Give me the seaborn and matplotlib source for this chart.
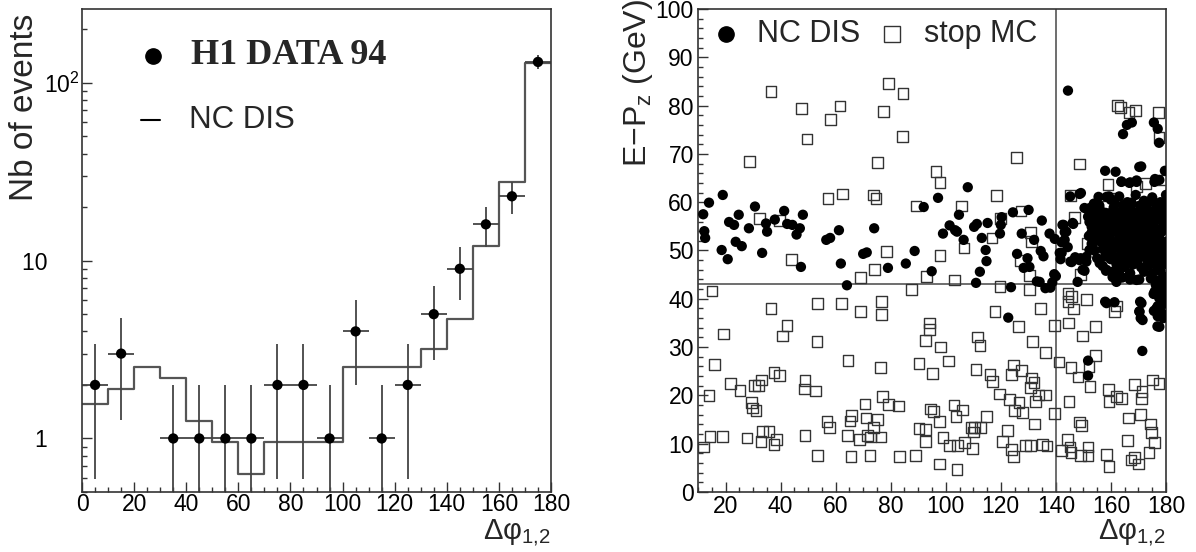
import numpy as np
import pandas as pd
import seaborn as sns
import matplotlib.pyplot as plt
from matplotlib.ticker import MultipleLocator, FixedLocator, FixedFormatter, LogLocator, NullFormatter

# ------------------------------------------
# DATA : left panel (delta phi distribution)
# ------------------------------------------
bin_edges = [0, 10, 20, 30, 40, 50, 60, 70, 80, 90, 100, 110, 120, 130, 140, 150, 160, 170, 180]
mc_counts = [1.56, 1.89, 2.52, 2.2, 1.26, 0.95, 0.63, 0.95, 0.95, 0.95,
             2.52, 2.52, 2.52, 3.17, 4.71, 12.1, 27.8, 129]

data_x = [5, 15, 35, 45, 55, 65, 75, 85, 95, 105, 115, 125, 135, 145, 155, 165, 175]
data_n = [2, 3, 1, 1, 1, 1, 2, 2, 1, 4, 1, 2, 5, 9, 16, 23, 131]
err_up = [1.41, 1.73, 1, 1, 1, 1, 1.41, 1.41, 1, 2, 1, 1.41, 2.24, 3, 4, 4.8, 11.4]
err_lo = [1.41, 1.73, 0.99, 0.99, 0.99, 0.99, 1.41, 1.41, 0.99, 2, 0.99, 1.41, 2.24, 3, 4, 4.8, 11.4]
half_bin = [5] * len(data_x)

# ------------------------------------------
# DATA : right panel (E-Pz vs delta phi)
# ------------------------------------------
stop_x = [36.5, 79.3, 84.5, 47.5, 61.6, 58.2, 77.3, 49.6, 84.4, 28.6, 75.1, 125.8, 96.5, 97.9,
          57.2, 62.4, 73.8, 74.7, 89.2, 105.8, 118.3, 127.3, 32.4, 39.5, 119.9, 130.7, 131.2,
          116.8, 106.6, 78.4, 97.9, 44.1, 74.2, 93.1, 68.9, 103.2, 130.3, 127.2, 87.5, 119.7,
          130.3, 15.1, 36.5, 53.3, 62.0, 69.1, 76.6, 76.6, 117.9, 134.5, 42.3, 94.2, 94.2,
          126.5, 139.6, 19.4, 40.6, 53.2, 92.7, 131.4, 111.4, 112.4, 98.0, 136.3, 64.5, 101.1,
          16.1, 90.3, 76.2, 111.0, 124.5, 127.5, 123.8, 95.3, 37.6, 39.5, 33.1, 48.9, 21.9,
          116.1, 116.9, 131.2, 132.1, 30.5, 32.0, 25.3, 48.6, 52.8, 14.0, 130.7, 119.6, 133.8,
          136.1, 77.0, 123.2, 126.6, 132.5, 29.4, 70.7, 79.3, 82.9, 29.7, 31.1, 94.5, 95.5,
          103.0, 106.2, 124.9, 128.0, 65.9, 139.6, 56.9, 57.8, 65.2, 71.0, 75.3, 73.8, 97.6,
          103.7, 114.9, 109.4, 110.4, 112.5, 132.3, 33.5, 35.8, 90.3, 92.7, 122.5, 14.4, 18.8,
          27.8, 48.9, 64.3, 68.6, 71.7, 72.6, 76.5, 110.2, 99.0, 38.6, 32.9, 37.6, 11.9, 92.6,
          106.8, 101.5, 104.3, 109.7, 120.7, 123.8, 128.9, 130.7, 135.2, 136.8, 53.5, 65.6,
          72.5, 83.1, 88.9, 124.5, 97.8, 104.1,
          162.4, 163.5, 166.6, 169.0, 177.3, 177.5, 148.5, 158.9, 161.6, 169.2, 172.6, 178.6,
          145.2, 146.7, 158.6, 151.5, 149.0, 144.4, 145.8, 144.4, 146.4, 151.2, 162.0, 161.3,
          144.5, 149.6, 154.5, 154.5, 141.1, 145.5, 148.0, 152.0, 152.4, 159.0, 159.3, 162.0,
          163.9, 168.7, 171.3, 171.0, 175.2, 177.5, 144.8, 166.5, 170.7, 174.5, 174.8, 175.9,
          166.1, 148.5, 149.4, 144.1, 145.1, 142.1, 145.5, 149.0, 151.7, 151.7, 158.3, 159.3,
          167.3, 168.6, 170.0, 173.8]
stop_y = [82.9, 84.5, 82.5, 79.4, 79.9, 77.2, 78.8, 73.1, 73.6, 68.5, 68.2, 69.3, 66.4, 64.1,
          60.8, 61.7, 61.5, 60.7, 59.2, 59.2, 61.4, 58.2, 56.6, 56.2, 56.6, 53.7, 51.8,
          52.6, 50.5, 49.8, 48.9, 48.2, 46.1, 44.6, 44.4, 43.9, 44.9, 48.0, 42.0, 42.6,
          42.0, 41.6, 38.0, 39.1, 39.1, 37.4, 39.4, 36.7, 37.4, 38.0, 34.5, 35.0, 33.6,
          34.2, 34.5, 32.7, 32.3, 31.2, 31.4, 31.2, 32.1, 30.3, 30.0, 28.9, 27.3, 27.1,
          26.4, 26.6, 25.8, 25.4, 26.3, 25.2, 24.3, 24.5, 24.7, 24.1, 23.2, 23.1, 22.5,
          24.3, 22.8, 23.6, 22.6, 22.0, 22.0, 21.0, 21.3, 20.9, 20.0, 21.6, 20.3, 20.1,
          20.1, 19.8, 19.1, 18.5, 18.7, 18.5, 18.2, 18.1, 17.8, 17.4, 16.9, 17.2, 16.6,
          18.0, 17.0, 16.9, 16.4, 15.9, 16.3, 14.6, 13.4, 14.7, 15.3, 15.0, 13.4, 14.6,
          15.7, 15.7, 13.4, 13.4, 13.4, 14.1, 12.6, 12.5, 13.1, 13.0, 12.8, 11.5, 11.5,
          11.2, 11.7, 11.7, 10.9, 11.7, 11.4, 11.4, 12.4, 11.3, 10.8, 10.4, 9.9, 9.3, 10.4,
          10.3, 9.7, 9.6, 9.0, 10.4, 8.8, 9.7, 9.7, 9.9, 9.5, 7.5, 7.3,
          7.5, 7.3, 7.5, 7.4, 5.8, 4.7,
          80.0, 79.6, 78.5, 79.0, 78.5, 73.4, 67.9, 63.7, 60.7, 63.2, 63.8, 64.6,
          61.4, 56.9, 59.1, 51.5, 45.1, 41.1, 40.4, 39.4, 37.9, 39.8, 38.5, 37.4,
          35.0, 32.3, 34.3, 28.3, 26.9, 25.8, 23.8, 26.0, 21.8, 21.2, 18.8, 19.7,
          19.3, 22.3, 20.8, 19.3, 23.2, 22.5, 18.8, 15.3, 16.1, 14.1, 12.3, 10.2,
          10.6, 14.5, 13.7, 10.8, 9.3, 8.6, 8.2, 7.5, 7.5, 9.3, 7.7, 5.3,
          6.6, 7.2, 5.8, 8.2]

nc_x = [11.9, 12.3, 12.6, 14.0, 19.0, 18.6, 20.8, 21.3, 23.1, 24.8, 23.7, 25.9, 28.5, 30.7,
        33.3, 34.7, 35.1, 37.9, 41.3, 42.4, 44.3, 45.8, 47.0, 48.1, 47.4, 56.6, 58.0, 61.2,
        61.9, 64.1, 70.0, 71.3, 74.0, 79.0, 85.5, 88.7, 92.0, 94.9, 97.2, 99.0, 101.4, 103.4,
        104.1, 104.8, 106.5, 108.0, 110.3, 111.3, 111.0, 112.4, 113.1, 114.5, 114.8, 115.2,
        120.0, 119.7, 120.3, 123.7, 124.4, 125.9, 127.6, 128.3, 130.1, 129.7, 130.4, 132.1,
        133.1, 134.1, 134.9, 134.5, 135.5, 136.2, 138.0, 137.7, 139.6, 139.4, 138.7, 122.7,
        # beyond the 140 cut
        144.4, 164.4, 165.8, 167.6, 175.6, 177.0, 177.5, 171.0, 157.9, 179.6, 163.8, 167.0,
        169.3, 176.0, 145.2, 149.1, 142.8, 146.3, 143.8, 142.1, 141.4, 141.7, 145.3, 147.0,
        149.0, 150.4, 151.1, 140.0, 152.4, 153.8, 155.8, 159.3, 151.7, 155.1, 159.9, 160.6,
        158.2, 162.0, 164.1, 166.9, 170.3, 161.3, 157.9, 170.6, 170.3, 170.8, 171.4, 176.9,
        151.7, 151.7, 175.6, 177.0, 178.4, 179.0, 177.0, 175.9, 177.7, 179.0, 176.3, 178.4,
        177.4, 179.4,
        150.4, 152.9, 155.9, 152.2, 153.4, 152.9, 154.7, 153.3, 152.2, 151.1, 148.6, 145.7,
        149.7, 155.9, 158.4, 160.6, 162.0, 166.7, 169.3, 147.9, 158.4, 155.5, 148.6, 163.8,
        166.7, 169.3, 170.3, 175.8, 177.6, 161.7, 142.4, 146.1, 143.2, 143.2, 144.3, 142.1,
        158.4, 171.1, 170.4, 171.5, 177.6, 177.6,
        # dense core
        160, 163, 166, 169, 172, 175, 178, 180,
        156, 158, 161, 164, 167, 170, 173, 176, 179,
        154, 157, 159, 162, 165, 168, 171, 174, 177, 180,
        153, 156, 158, 161, 164, 167, 170, 173, 176, 179,
        152, 155, 157, 160, 163, 166, 169, 172, 175, 178,
        153, 156, 159, 162, 165, 168, 171, 174, 177, 180,
        154, 157, 160, 163, 166, 169, 172, 175, 178,
        155, 158, 161, 164, 167, 170, 173, 176, 179,
        157, 162, 165, 168, 171, 174, 177, 180,
        163, 167, 172, 175, 178,
        161.5, 164.5, 167.5, 170.5, 173.5, 176.5, 179.5,
        159.5, 162.5, 165.5, 168.5, 171.5, 174.5, 177.5,
        157.5, 160.5, 163.5, 166.5, 169.5, 172.5, 175.5, 178.5,
        158.5, 161.5, 164.5, 167.5, 170.5, 173.5, 176.5, 179.5,
        156.5, 159.5, 162.5, 165.5, 168.5, 171.5, 174.5, 177.5,
        158.5, 161.5, 164.5, 167.5, 170.5, 173.5, 176.5, 179.5,
        160.5, 163.5, 166.5, 169.5, 172.5, 175.5, 178.5,
        164.5, 169.5, 173.5, 176.5, 179.5,
        174.5, 176.5, 178.5, 180, 175.5, 177.5, 179.5, 176.5, 178.5, 180]
nc_y = [57.5, 54.0, 52.6, 59.9, 61.5, 50.1, 48.2, 55.9, 55.3, 57.4, 51.8, 50.9, 54.6, 59.1,
        49.5, 55.6, 53.9, 56.4, 58.2, 55.5, 55.3, 53.3, 54.6, 57.4, 46.6, 52.2, 52.6, 54.2,
        47.3, 42.8, 49.3, 49.6, 54.6, 46.4, 47.3, 49.9, 59.0, 45.7, 60.9, 53.5, 55.2, 54.2,
        53.9, 57.4, 52.2, 63.1, 54.9, 55.5, 43.3, 45.6, 52.6, 50.1, 47.8, 55.7,
        55.3, 53.5, 56.9, 42.4, 57.9, 49.3, 53.5, 46.4, 58.4, 48.4, 46.6, 52.2,
        43.6, 43.5, 56.2, 49.9, 48.8, 42.2, 42.3, 53.5, 52.4, 45.1, 43.4, 36.1,
        83.1, 74.1, 76.0, 76.5, 76.5, 75.2, 72.3, 67.4, 66.5, 66.5, 64.3, 64.1,
        64.5, 64.8, 61.2, 61.9, 55.3, 55.5, 53.9, 51.7, 49.5, 48.2, 47.7, 48.6,
        48.4, 45.8, 47.7, 44.7, 58.8, 59.7, 59.3, 61.2, 57.0, 57.4, 48.2, 45.6,
        45.8, 44.7, 44.4, 44.0, 44.0, 39.3, 39.4, 39.4, 37.4, 36.0, 29.2, 34.3,
        27.2, 24.1, 37.5, 38.5, 37.1, 36.0, 36.4, 41.5, 40.7, 40.0, 42.9, 43.6,
        42.1, 42.1,
        58.8, 58.0, 57.8, 55.9, 55.0, 53.6, 52.2, 50.7, 50.1, 48.7, 48.0, 47.6,
        46.0, 47.4, 46.0, 44.5, 43.5, 44.9, 43.9, 43.5, 61.1, 61.1, 61.7, 64.2,
        64.0, 64.2, 67.3, 64.2, 64.6, 66.3, 55.3, 55.7, 53.8, 52.2, 50.7, 49.5,
        39.1, 39.1, 37.3, 35.6, 36.6, 34.2,
        60.5, 61.2, 60.0, 61.5, 60.3, 61.0, 60.0, 61.5,
        58.5, 57.8, 58.9, 58.2, 58.8, 58.0, 58.6, 58.3, 58.8,
        56.5, 56.8, 55.9, 57.0, 56.4, 57.2, 56.6, 57.0, 56.5, 57.2,
        54.9, 55.2, 54.3, 55.3, 54.7, 55.5, 54.8, 55.3, 54.6, 55.2,
        53.0, 53.6, 52.8, 53.7, 53.0, 53.8, 53.1, 53.7, 53.0, 53.6,
        51.4, 51.9, 52.2, 51.5, 52.3, 51.6, 52.2, 51.5, 52.1, 51.8,
        50.0, 50.3, 49.8, 50.5, 49.9, 50.4, 49.8, 50.4, 50.0,
        48.4, 48.8, 48.2, 48.7, 48.1, 48.6, 48.2, 48.8, 48.4,
        46.8, 47.2, 46.6, 47.1, 46.5, 47.0, 46.6, 47.2,
        45.5, 45.3, 45.6, 45.2, 45.7,
        59.7, 59.4, 59.9, 59.3, 59.8, 59.5, 59.6,
        57.7, 57.3, 57.8, 57.4, 57.9, 57.5, 57.6,
        56.0, 56.2, 55.8, 56.3, 55.9, 56.1, 55.7, 56.2,
        54.0, 54.3, 53.9, 54.4, 54.1, 54.2, 53.8, 54.3,
        52.3, 52.6, 52.0, 52.7, 52.4, 52.8, 52.2, 52.5,
        50.7, 51.0, 50.6, 51.1, 50.8, 51.0, 50.6, 50.9,
        49.2, 49.0, 49.4, 49.1, 49.3, 49.0, 49.2,
        47.8, 47.6, 47.9, 47.7, 47.8,
        44.2, 43.8, 44.0, 44.5, 41.0, 40.2, 39.0, 38.0, 38.8, 41.8]

phi_cut = 140
epz_cut = 43

df_stop = pd.DataFrame({'dphi': stop_x, 'epz': stop_y})
df_nc = pd.DataFrame({'dphi': nc_x, 'epz': nc_y})

# ------------------------------------------
# STYLE
# ------------------------------------------
sns.set_style("ticks")
plt.rcParams['font.family'] = ['Liberation Sans', 'DejaVu Sans']
plt.rcParams['mathtext.fontset'] = 'custom'
plt.rcParams['mathtext.rm'] = 'Liberation Sans'
plt.rcParams['mathtext.it'] = 'Liberation Sans'

frame_col = '#333333'
line_col = '#555555'

fig = plt.figure(figsize=(11.96, 5.52), dpi=100)
ax1 = fig.add_axes([0.0686, 0.1087, 0.3921, 0.875])
ax2 = fig.add_axes([0.5836, 0.1087, 0.3913, 0.875])

for ax in (ax1, ax2):
    for s in ax.spines.values():
        s.set_color(frame_col)
        s.set_linewidth(1.2)
    ax.tick_params(which='both', direction='in', top=False, right=False,
                   colors=frame_col, labelcolor='black', labelsize=16.5, width=1)
    ax.tick_params(which='major', length=7)
    ax.tick_params(which='minor', length=3.5)

# ------------------------------------------
# LEFT PANEL
# ------------------------------------------
ax1.set_yscale('log')
step_y = mc_counts + [mc_counts[-1]]
sns.lineplot(x=bin_edges, y=step_y, drawstyle='steps-post', color=line_col,
             linewidth=1.6, estimator=None, ax=ax1, legend=False)

ax1.errorbar(data_x, data_n, yerr=[err_lo, err_up], xerr=half_bin, fmt='none',
             ecolor='#444444', elinewidth=1.3, capsize=0)
sns.scatterplot(x=data_x, y=data_n, color='black', s=55, edgecolor='none',
                ax=ax1, zorder=5, legend=False)

ax1.set_xlim(0, 180)
ax1.set_ylim(0.5, 260)
ax1.xaxis.set_major_locator(MultipleLocator(20))
ax1.xaxis.set_minor_locator(MultipleLocator(5))
ax1.yaxis.set_major_locator(FixedLocator([1, 10, 100]))
ax1.yaxis.set_major_formatter(FixedFormatter(['1     ', '10     ', '10$^2$']))
ax1.yaxis.set_minor_locator(LogLocator(base=10, subs=[2, 3, 4, 5, 6, 7, 8, 9]))
ax1.yaxis.set_minor_formatter(NullFormatter())
ax1.tick_params(axis='x', pad=1)
ax1.tick_params(axis='y', pad=2)
ax1.set_xlabel('')
ax1.set_ylabel('')

ax1.text(-0.122, 0.99, 'Nb of events', rotation=90, ha='center', va='top',
         fontsize=24, transform=ax1.transAxes)
ax1.text(1.0, -0.085, 'Δφ$_{1{,}2}$', ha='right', va='center', fontsize=21,
         transform=ax1.transAxes)

# legend (hand placed, like the original)
ax1.plot([0.151], [0.903], 'o', color='black', markersize=11, transform=ax1.transAxes)
ax1.text(0.232, 0.903, 'H1 DATA 94', fontsize=26, fontweight='bold',
         family=['Liberation Serif', 'DejaVu Serif'], ha='left', va='center',
         transform=ax1.transAxes)
ax1.plot([0.125, 0.166], [0.770, 0.770], color='black', linewidth=1.5,
         transform=ax1.transAxes)
ax1.text(0.228, 0.770, 'NC DIS', fontsize=22.5, ha='left', va='center',
         transform=ax1.transAxes)

# ------------------------------------------
# RIGHT PANEL
# ------------------------------------------
sns.scatterplot(data=df_stop, x='dphi', y='epz', marker='s', s=60,
                facecolor='none', edgecolor='#333333', linewidth=1.0, ax=ax2,
                legend=False, zorder=3)
sns.scatterplot(data=df_nc, x='dphi', y='epz', marker='o', s=55, color='black',
                edgecolor='none', ax=ax2, legend=False, zorder=4)

ax2.axvline(phi_cut, color=line_col, linewidth=1.2, zorder=2)
ax2.axhline(epz_cut, color=line_col, linewidth=1.2, zorder=2)

ax2.set_xlim(10, 180)
ax2.set_ylim(0, 100)
ax2.xaxis.set_major_locator(MultipleLocator(20))
ax2.xaxis.set_minor_locator(MultipleLocator(5))
ax2.yaxis.set_major_locator(MultipleLocator(10))
ax2.yaxis.set_minor_locator(MultipleLocator(2))
ax2.tick_params(axis='x', pad=2)
ax2.tick_params(axis='y', pad=3)
ax2.set_xlabel('')
ax2.set_ylabel('')

ax2.text(-0.128, 1.02, 'E−P$_z$ (GeV)', rotation=90, ha='center', va='top',
         fontsize=23, transform=ax2.transAxes)
ax2.text(1.0, -0.085, 'Δφ$_{1{,}2}$', ha='right', va='center', fontsize=21,
         transform=ax2.transAxes)

ax2.plot([0.06], [0.949], 'o', color='black', markersize=11, transform=ax2.transAxes)
ax2.text(0.126, 0.949, 'NC DIS', fontsize=22, ha='left', va='center',
         transform=ax2.transAxes)
ax2.plot([0.415], [0.949], 's', markerfacecolor='none', markeredgecolor='#333333',
         markersize=11, markeredgewidth=1.0, transform=ax2.transAxes)
ax2.text(0.483, 0.949, 'stop MC', fontsize=22, ha='left', va='center',
         transform=ax2.transAxes)

fig.savefig('out.png', dpi=100)
